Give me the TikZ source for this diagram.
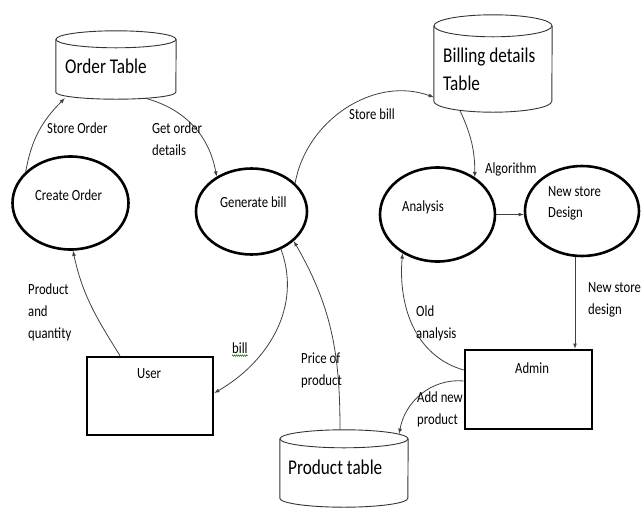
\documentclass[tikz,border=0pt]{standalone}
\usepackage{fontspec}
\setmainfont{Carlito}[FakeStretch=0.82]
\usetikzlibrary{shapes.geometric, arrows}
\usetikzlibrary{decorations.pathmorphing}

\tikzset{
  proc/.style={ellipse, draw, line width=2.6pt, inner sep=0},
  ent/.style={rectangle, draw, line width=2.6pt, inner sep=0},
  dbody/.style={rectangle, inner sep=0},
  db/.style={line width=0.9pt, black!80},
  flow/.style={line width=0.8pt, black!75, -latex},
  lbl/.style={inner sep=0, align=left, font=\fontsize{15.5}{22}\selectfont},
  big/.style={inner sep=0, align=left, font=\fontsize{21}{28}\selectfont},
}

\begin{document}
\begin{tikzpicture}[x=1pt,y=1pt]
\useasboundingbox (0,0) rectangle (641,-507);

% processes and entities
\node[proc, minimum width=116, minimum height=93] (create) at (70.5,-203) {};
\node[proc, minimum width=111, minimum height=86] (genbill) at (251.5,-211.5) {};
\node[proc, minimum width=115, minimum height=94] (analysis) at (437.5,-214.5) {};
\node[proc, minimum width=114, minimum height=90] (newstore) at (582,-211) {};
\node[ent, minimum width=126, minimum height=78] (user) at (150,-396) {};
\node[ent, minimum width=127, minimum height=79] (admin) at (528.5,-389.5) {};

% data stores
\node[dbody, minimum width=120, minimum height=52.5] (ordertab) at (116,-65.75) {};
\draw[db] (ordertab.north) ellipse[x radius=60, y radius=8.5];
\draw[db] (ordertab.north west) -- (ordertab.south west) arc[start angle=180, end angle=360, x radius=60, y radius=7] -- (ordertab.north east);

\node[dbody, minimum width=118, minimum height=75] (billtab) at (493,-63.5) {};
\draw[db] (billtab.north) ellipse[x radius=59, y radius=11];
\draw[db] (billtab.north west) -- (billtab.south west) arc[start angle=180, end angle=360, x radius=59, y radius=11] -- (billtab.north east);

\node[dbody, minimum width=128, minimum height=59] (prodtab) at (344,-468.5) {};
\draw[db] (prodtab.north) ellipse[x radius=64, y radius=9];
\draw[db] (prodtab.north west) -- (prodtab.south west) arc[start angle=180, end angle=360, x radius=64, y radius=9] -- (prodtab.north east);

% texts in the shapes
\node[lbl, right] (createtxt) at (35,-195) {Create Order};
\node[lbl, right] (genbilltxt) at (220,-202) {Generate bill};
\node[lbl, right] (analysistxt) at (402,-207) {Analysis};
\node[lbl, right, font=\fontsize{15.5}{21.5}\selectfont] (newstoretxt) at (548,-203.5) {New store\\Design};
\node[lbl, right] (usertxt) at (137,-374) {User};
\node[lbl, right] (admintxt) at (515,-368) {Admin};
\node[big, right] (ordertabtxt) at (65,-66) {Order Table};
\node[big, right] (billtabtxt) at (443,-69) {Billing details\\Table};
\node[big, right] (prodtabtxt) at (288,-467) {Product table};

% data flows
\draw[flow] (create.145) to[out=80,in=-135] ([xshift=9,yshift=-6]ordertab.south west);
\draw[flow] ([xshift=-31,yshift=-6]ordertab.south east) to[out=-15,in=100] (genbill.135);
\draw[flow] (genbill.33) to[out=80,in=160] ([yshift=4]billtab.south west);
\draw[flow] ([xshift=26,yshift=-9]billtab.south west) to[out=-65,in=90] (analysis.45);
\draw[flow] (analysis.east) -- (analysis.east -| newstore.west);
\draw[flow] ([xshift=-7]newstore.south) -- ([xshift=-7]newstore.south |- admin.north);
\draw[flow] ([yshift=19.5]admin.west) to[out=164,in=-95] (analysis.228);
\draw[flow] ([yshift=8.5]admin.west) to[out=175,in=80] ([xshift=-9,yshift=5]prodtab.north east);
\draw[flow] ([xshift=-4,yshift=9]prodtab.north) to[out=90,in=-60] (genbill.-35);
\draw[flow] (genbill.-52) to[out=-70,in=30] ([yshift=3]user.east);
\draw[flow] ([xshift=-30]user.north) to[out=122,in=-78] (create.-87);

% flow labels
\node[lbl, right] (lstoreord) at (47,-128) {Store Order};
\node[lbl, right] (lgetord) at (152,-139.5) {Get order\\details};
\node[lbl, right] (lstorebill) at (349,-114) {Store bill};
\node[lbl, right] (lalgo) at (485,-169) {Algorithm};
\node[lbl, right] (lnewdesign) at (588,-300) {New store\\design};
\node[lbl, right] (lold) at (416,-323) {Old\\analysis};
\node[lbl, right] (laddprod) at (417,-409) {Add new\\product};
\node[lbl, right] (lprice) at (301,-370) {Price of\\product};
\node[lbl, right] (lprodqty) at (28,-312) {Product\\and\\quantity};
\node[lbl, right] (lbill) at (232,-348) {bill};
\draw[green!55!black, line width=0.6pt, decorate, decoration={snake, amplitude=0.7pt, segment length=2pt}] ([yshift=-2]lbill.south west) -- ([yshift=-2]lbill.south east);
\end{tikzpicture}
\end{document}
